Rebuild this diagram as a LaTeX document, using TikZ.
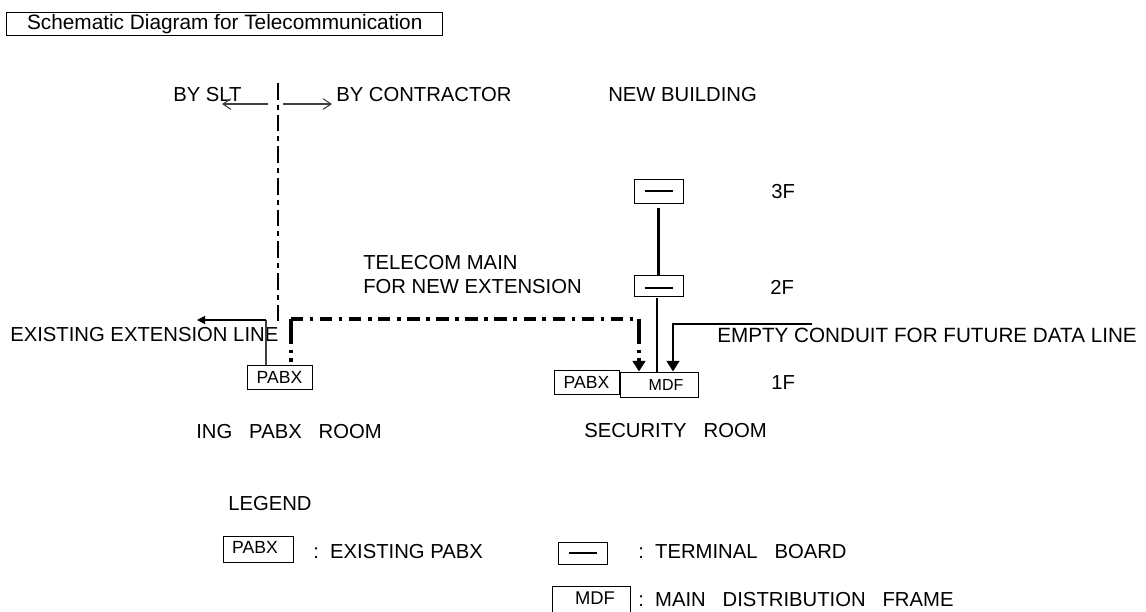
\documentclass[tikz,border=0pt]{standalone}
\usepackage{fontspec}
\setmainfont{Liberation Sans}
\usetikzlibrary{arrows.meta}
\tikzset{
  lbl/.style={inner sep=0pt, anchor=west, font=\fontsize{15.2}{17}\selectfont},
  smalltxt/.style={inner sep=0pt, font=\fontsize{13.2}{15}\selectfont},
  box/.style={draw, line width=0.75pt, inner sep=0pt},
  termbox/.style={box, path picture={\draw[line width=1.6pt] ([xshift=-10.5pt, yshift=#1]path picture bounding box.center) -- ([xshift=10.5pt, yshift=#1]path picture bounding box.center);}},
  termbox/.default=0pt,
  heavy/.style={line width=1.9pt},
  chain/.style={line width=2.4pt, dash pattern=on 9.2pt off 5pt on 2.6pt off 5pt},
  chainv/.style={line width=2.4pt, dash pattern=on 19pt off 4pt on 2.6pt off 4pt},
  thinline/.style={line width=0.8pt, black!75},
  solidtip/.style={-{Triangle[length=8pt, width=9.5pt]}},
  opentip/.style={-{Straight Barb[length=6pt, width=8pt]}}
}
\begin{document}
\begin{tikzpicture}[x=0.75pt, y=-0.75pt]
\useasboundingbox (0,0) rectangle (1146,611);

% title
\node[box, minimum width=327pt, minimum height=17.25pt] (title) at (224,23.5) {};
\node[inner sep=0pt, font=\fontsize{15.6}{17}\selectfont] (titletext) at (224.7,24) {Schematic Diagram for Telecommunication};

% upper labels
\node[lbl] (slt) at (173,95) {BY SLT};
\node[lbl] (contractor) at (336,95) {BY CONTRACTOR};
\node[lbl] (newbuilding) at (608,95) {NEW BUILDING};
\node[lbl] (tel1) at (363,263) {TELECOM MAIN};
\node[lbl] (tel2) at (363,287) {FOR NEW EXTENSION};
\node[lbl] (f3) at (771,192) {3F};
\node[lbl] (f2) at (770,287) {2F};
\node[lbl] (f1) at (771,383) {1F};
\node[lbl] (extline) at (10,335) {EXISTING EXTENSION LINE};
\node[lbl, font=\fontsize{15.5}{17}\selectfont] (conduit) at (717,335) {EMPTY CONDUIT FOR FUTURE DATA LINE};
\node[lbl] (secroom) at (584,431) {SECURITY\ \ \ ROOM};
\begin{scope}
\clip (197,415) rectangle (400,445);
\node[lbl, anchor=east] (pabxroom) at (382,432) {TING\ \ \ PABX\ \ \ ROOM};
\end{scope}

% boundary
\coordinate (bt) at (278,83);
\coordinate (bb) at (278,323);
\draw[line width=1.5pt, dash pattern=on 12.5pt off 3.75pt on 3.75pt off 3.75pt] (bt) -- (bb);
\coordinate (al) at (268,104);
\coordinate (ar) at (283,104);
\coordinate (alt) at (222,104);
\coordinate (art) at (332,104);
\draw[thinline, opentip] (al) -- (alt);
\draw[thinline, opentip] (ar) -- (art);

% boxes
\node[box, minimum width=48.75pt, minimum height=18pt, smalltxt] (pabxa) at (279.5,377) {PABX};
\node[box, minimum width=48.75pt, minimum height=18pt, smalltxt] (pabxb) at (586.5,382) {PABX};
\node[box, minimum width=58.5pt, minimum height=18.75pt] (mdf) at (659,384.5) {};
\node[smalltxt, font=\fontsize{12}{14}\selectfont] (mdftext) at (666,384.5) {MDF};
\node[termbox, minimum width=36.75pt, minimum height=18pt] (tb3) at (658.5,191) {};
\node[termbox=-1.9pt, minimum width=36.75pt, minimum height=15.75pt] (tb2) at (658.5,285.5) {};

% lines
\coordinate (e1) at (266,320);
\coordinate (e2) at (197,320);
\draw[thinline] (pabxa.north -| e1) -- (e1);
\draw[thinline, black, -{Triangle[length=6pt, width=6pt]}] (e1) -- (e2);
\coordinate (c1) at (291,319);
\coordinate (c2) at (639,319);
\draw[chainv, shorten >=2pt] (c1) -- (pabxa.north -| c1);
\draw[chain] (c1) -- (c2);
\draw[chainv, solidtip] (c2) -- (c2 |- mdf.north);
\draw[heavy, shorten <=3pt] (tb3.south) -- (tb2.north);
\coordinate (s1) at (657,298);
\draw[heavy] (s1) -- (s1 |- mdf.north);
\coordinate (d1) at (812,324);
\coordinate (d2) at (673,324);
\draw[heavy, solidtip] (d1) -- (d2) -- (d2 |- mdf.north);

% legend
\node[lbl] (legend) at (228,504) {LEGEND};
\node[box, minimum width=52.5pt, minimum height=19.5pt] (lgpabx) at (258,549) {};
\node[smalltxt] (lgpabxtext) at (255,547) {PABX};
\node[lbl] (lgpabxlbl) at (313,552) {:\ \ EXISTING PABX};
\node[termbox, minimum width=37pt, minimum height=16.5pt] (lgtb) at (582.7,553) {};
\node[lbl] (lgtblbl) at (638,552) {:\ \ TERMINAL\ \ \ BOARD};
\node[box, minimum width=58.5pt, minimum height=20.25pt] (lgmdf) at (591,599.5) {};
\node[smalltxt, font=\fontsize{13.8}{15}\selectfont] (lgmdftext) at (595,598) {MDF};
\node[lbl] (lgmdflbl) at (638,600) {:\ \ MAIN\ \ \ DISTRIBUTION\ \ \ FRAME};
\end{tikzpicture}
\end{document}
